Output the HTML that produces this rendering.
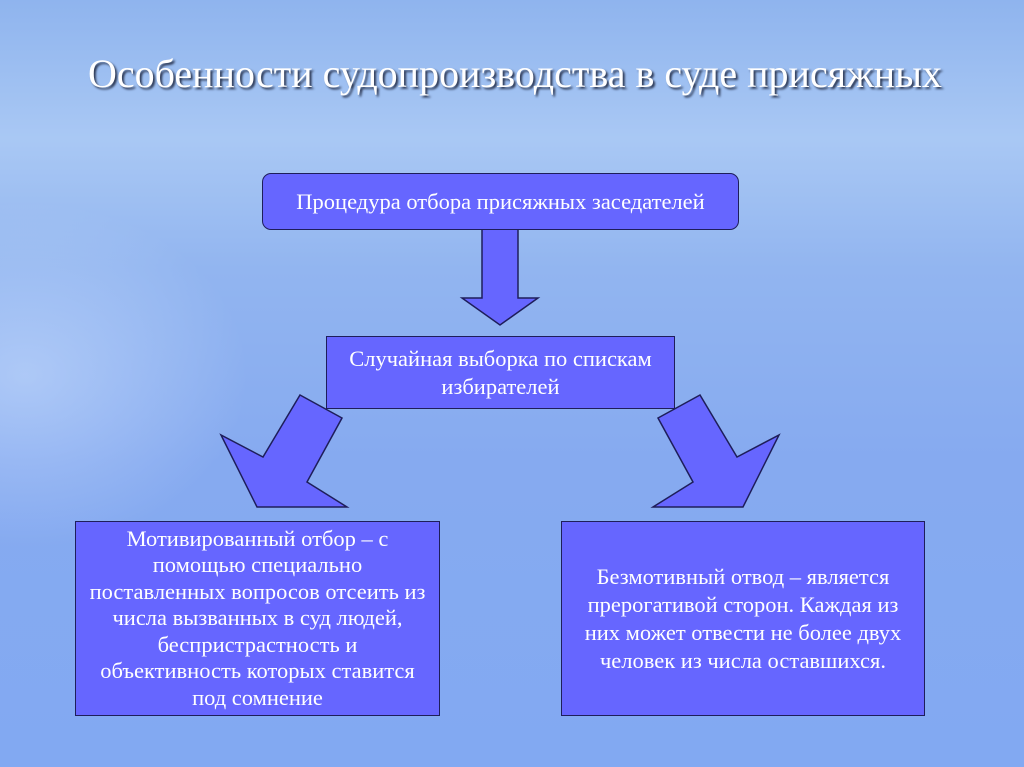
<!DOCTYPE html>
<html><head><meta charset="utf-8"><style>
html,body{margin:0;padding:0}
body{width:1024px;height:767px;position:relative;overflow:hidden;
background:linear-gradient(180deg,#8fb4ee 0%,#a9c8f4 18%,#92b5f0 35%,#86aaf0 60%,#82a9f2 100%);
font-family:"Liberation Serif",serif}
.glow{position:absolute;left:-200px;top:200px;width:450px;height:350px;border-radius:50%;
background:radial-gradient(ellipse,rgba(215,232,255,0.45),rgba(215,232,255,0) 70%)}
.title{position:absolute;left:0;width:1024px;top:50px;text-align:center;font-size:40px;color:#fff;
text-shadow:2px 2px 2px #2a3550;white-space:nowrap;padding-left:3px}
.box{position:absolute;background:#6666ff;border:1.5px solid #1e1e5a;color:#fff;font-size:22.5px;
display:flex;align-items:center;justify-content:center;text-align:center;line-height:28px;box-sizing:border-box;white-space:nowrap}
svg{position:absolute;left:0;top:0}
</style></head><body>
<div class="glow"></div>
<div class="title">Особенности судопроизводства в суде присяжных</div>
<svg width="1024" height="767">
<g fill="#6666ff" stroke="#1e1e5a" stroke-width="1.5">
<polygon points="482,229 518,229 518,298 538,298 500,325 462,298 482,298"/>
<polygon points="300,395 342,418 307,482 347,507 257,507 221,435 263,457"/>
<polygon points="700,395 658,418 693,482 653,507 743,507 779,435 737,457"/>
</g></svg>
<div class="box" style="left:262px;top:173px;width:477px;height:57px;border-radius:9px">Процедура отбора присяжных заседателей</div>
<div class="box" style="left:326px;top:336px;width:349px;height:73px">Случайная выборка по спискам<br>избирателей</div>
<div class="box" style="left:75px;top:521px;width:365px;height:195px;line-height:26.5px">Мотивированный отбор – с<br>помощью специально<br>поставленных вопросов отсеить из<br>числа вызванных в суд людей,<br>беспристрастность и<br>объективность которых ставится<br>под сомнение</div>
<div class="box" style="left:561px;top:521px;width:364px;height:195px">Безмотивный отвод – является<br>прерогативой сторон. Каждая из<br>них может отвести не более двух<br>человек из числа оставшихся.</div>
</body></html>
